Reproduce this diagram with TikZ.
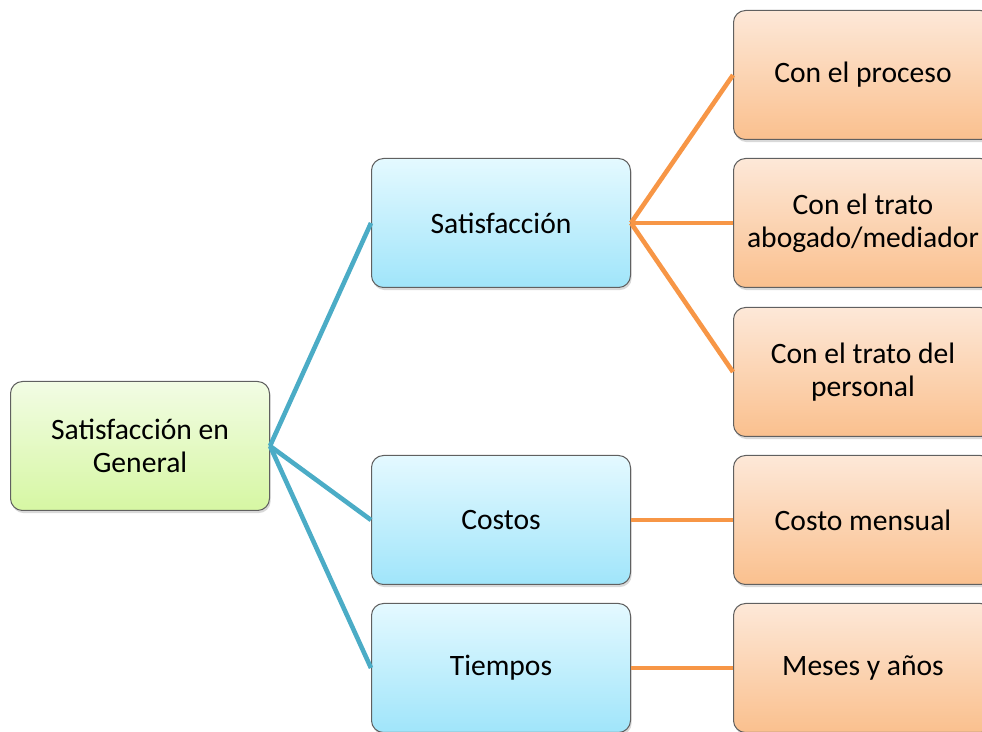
\documentclass[tikz,border=0pt]{standalone}
\usepackage{fontspec}
\setmainfont{Carlito}
\usetikzlibrary{shadows}

\definecolor{rootTop}{RGB}{242,252,228}
\definecolor{rootBottom}{RGB}{214,247,163}
\definecolor{midTop}{RGB}{228,249,255}
\definecolor{midBottom}{RGB}{160,229,250}
\definecolor{leafTop}{RGB}{253,232,216}
\definecolor{leafBottom}{RGB}{250,192,142}
\definecolor{blueLine}{RGB}{75,172,198}
\definecolor{orangeLine}{RGB}{247,150,70}

\begin{document}
\begin{tikzpicture}[x=0.5pt, y=-0.5pt,
      box/.style = {shape=rectangle, rounded corners=6pt,
        draw=gray!75!black, line width=0.5pt, align=center,
        minimum width=129.5pt, minimum height=64.5pt,
        font=\fontsize{14.8}{16.7}\selectfont,
        drop shadow={opacity=0.3, shadow xshift=0.6pt, shadow yshift=-1.3pt}},
      rootbox/.style = {box, top color=rootTop, bottom color=rootBottom},
      midbox/.style = {box, top color=midTop, bottom color=midBottom},
      leafbox/.style = {box, top color=leafTop, bottom color=leafBottom},
      blueedge/.style = {draw=blueLine, line width=2.3pt},
      orangeedge/.style = {draw=orangeLine, line width=2.3pt}]
      \clip (0,0) rectangle (982,732);
      \node[rootbox] (general) at (140,446) {Satisfacción en\\General};
      \node[midbox] (satisf) at (501,223) {Satisfacción};
      \node[midbox] (costos) at (501,520) {Costos};
      \node[midbox] (tiempos) at (501,668) {Tiempos};
      \node[leafbox] (proceso) at (863,75) {Con el proceso};
      \node[leafbox] (abogado) at (863,223) {Con el trato\\abogado/mediador};
      \node[leafbox] (personal) at (863,372) {Con el trato del\\personal};
      \node[leafbox] (mensual) at (863,520) {Costo mensual};
      \node[leafbox] (meses) at (863,668) {Meses y años};
      \draw[blueedge] (general.east) -- (satisf.west);
      \draw[blueedge] (general.east) -- (costos.west);
      \draw[blueedge] (general.east) -- (tiempos.west);
      \draw[orangeedge] (satisf.east) -- (proceso.west);
      \draw[orangeedge] (satisf.east) -- (abogado.west);
      \draw[orangeedge] (satisf.east) -- (personal.west);
      \draw[orangeedge] (costos.east) -- (mensual.west);
      \draw[orangeedge] (tiempos.east) -- (meses.west);
  \end{tikzpicture}
\end{document}
